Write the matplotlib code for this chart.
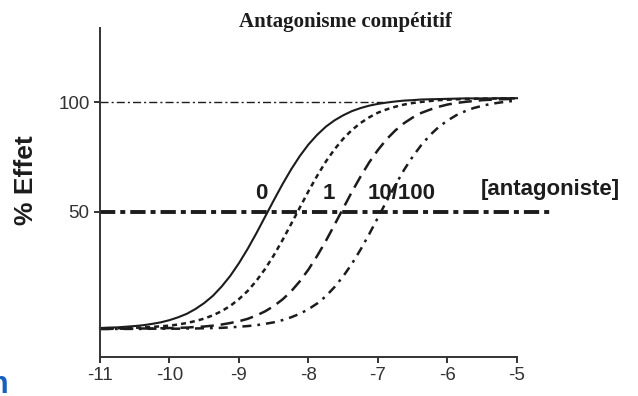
import matplotlib
matplotlib.use("Agg")
import matplotlib.pyplot as plt

plt.rcParams['lines.scale_dashes'] = False

# log [agoniste] (M), points every 0.125
log_conc = [-11.0, -10.875, -10.75, -10.625, -10.5, -10.375, -10.25, -10.125,
            -10.0, -9.875, -9.75, -9.625, -9.5, -9.375, -9.25, -9.125,
            -9.0, -8.875, -8.75, -8.625, -8.5, -8.375, -8.25, -8.125,
            -8.0, -7.875, -7.75, -7.625, -7.5, -7.375, -7.25, -7.125,
            -7.0, -6.875, -6.75, -6.625, -6.5, -6.375, -6.25, -6.125,
            -6.0, -5.875, -5.75, -5.625, -5.5, -5.375, -5.25, -5.125, -5.0]

# % effet for each antagonist concentration
effet_0 = [-3.0, -2.8, -2.7, -2.4, -2.1, -1.7, -1.1, -0.4,
           0.6, 1.9, 3.5, 5.7, 8.4, 11.7, 15.9, 20.8,
           26.6, 33.1, 40.2, 47.7, 55.2, 62.5, 69.3, 75.4,
           80.7, 85.1, 88.8, 91.7, 94.0, 95.9, 97.3, 98.4,
           99.2, 99.8, 100.3, 100.7, 100.9, 101.2, 101.3, 101.4,
           101.5, 101.6, 101.7, 101.7, 101.7, 101.7, 101.8, 101.8, 101.8]
effet_1 = [-3.2, -3.2, -3.1, -3.0, -2.9, -2.7, -2.5, -2.2,
           -1.9, -1.4, -0.7, 0.2, 1.3, 2.8, 4.7, 7.1,
           10.2, 13.9, 18.5, 23.9, 30.1, 37.0, 44.4, 51.9,
           59.4, 66.4, 72.9, 78.5, 83.3, 87.3, 90.5, 93.1,
           95.2, 96.7, 97.9, 98.9, 99.6, 100.1, 100.5, 100.9,
           101.1, 101.3, 101.4, 101.5, 101.6, 101.6, 101.7, 101.7, 101.7]
effet_10 = [-3.4, -3.4, -3.3, -3.3, -3.3, -3.2, -3.2, -3.1,
            -3.0, -2.9, -2.8, -2.5, -2.3, -1.9, -1.4, -0.7,
            0.1, 1.2, 2.7, 4.6, 7.0, 10.0, 13.7, 18.3,
            23.7, 29.9, 36.7, 44.1, 51.6, 59.1, 66.1, 72.6,
            78.2, 83.1, 87.1, 90.4, 93.0, 95.1, 96.6, 97.9,
            98.9, 99.6, 100.1, 100.5, 100.9, 101.1, 101.3, 101.4, 101.5]
effet_100 = [-3.4, -3.4, -3.4, -3.4, -3.4, -3.4, -3.3, -3.3,
             -3.3, -3.3, -3.2, -3.2, -3.1, -3.0, -2.9, -2.7,
             -2.4, -2.1, -1.7, -1.1, -0.4, 0.6, 1.9, 3.5,
             5.6, 8.2, 11.5, 15.7, 20.6, 26.3, 32.8, 39.9,
             47.4, 54.9, 62.2, 69.1, 75.2, 80.5, 85.0, 88.7,
             91.6, 94.0, 95.8, 97.3, 98.3, 99.2, 99.8, 100.3, 100.7]

# reference levels
max_x = [-11.0, -6.93]
max_y = [100, 100]
half_x = [-11.0, -4.52]
half_y = [50, 50]

ink = '#1c1c1c'

fig = plt.figure(figsize=(6.38, 3.96), dpi=100)
ax = fig.add_axes([0.1567, 0.0985, 0.6536, 0.8308])

ax.plot(max_x, max_y, color=ink, lw=1.0, dashes=(5.8, 2.2, 1.5, 2.2), clip_on=False)
ax.plot(half_x, half_y, color=ink, lw=2.8, dashes=(11, 3.6, 3.6, 3.6), clip_on=False)

ax.plot(log_conc, effet_0, color=ink, lw=1.5, clip_on=False)
ax.plot(log_conc, effet_1, color=ink, lw=1.8, dashes=(3.6, 2.9), clip_on=False)
ax.plot(log_conc, effet_10, color=ink, lw=1.8, dashes=(9.5, 5), clip_on=False)
ax.plot(log_conc, effet_100, color=ink, lw=1.8, dashes=(6.5, 4.3, 2, 4.3), clip_on=False)

ax.set_xlim(-11, -5)
ax.set_ylim(-16.2, 133.8)
ax.set_xticks([-11, -10, -9, -8, -7, -6, -5])
ax.set_xticklabels(['-11', '-10', '-9', '-8', '-7', '-6', '-5'])
ax.set_yticks([50, 100])
ax.set_yticklabels(['50', '100'])

for s in ['top', 'right']:
    ax.spines[s].set_visible(False)
for s in ['left', 'bottom']:
    ax.spines[s].set_color('#333333')
    ax.spines[s].set_linewidth(1.4)
ax.tick_params(axis='both', direction='out', length=4.5, width=1.4,
               color='#333333', labelcolor='#333333', labelsize=13.5,
               pad=3)
for lab in ax.get_xticklabels() + ax.get_yticklabels():
    lab.set_family('Liberation Sans')

lab_kw = dict(family='Liberation Sans', fontweight='bold', fontsize=16,
              color=ink, ha='center', va='center')
ax.text(-8.683, 58.5, '0', **lab_kw)
ax.text(-7.705, 58.5, '1', **lab_kw)
ax.text(-6.655, 58.5, '10/100', **lab_kw)
ax.text(-4.525, 60.0, '[antagoniste]', clip_on=False, **lab_kw)

fig.text(0.542, 0.944, 'Antagonisme compétitif', family='Liberation Serif',
         fontweight='bold', fontsize=15, color=ink, ha='center', va='center')
fig.text(0.040, 0.545, '% Effet', family='Liberation Sans', fontweight='bold',
         fontsize=19, color=ink, rotation=90, ha='center', va='center')
fig.text(-0.0157, 0.0076, 'n', family='Liberation Sans', fontweight='bold',
         fontsize=22, color='#1560bd', ha='left', va='baseline')

fig.savefig('out.png', dpi=100)
